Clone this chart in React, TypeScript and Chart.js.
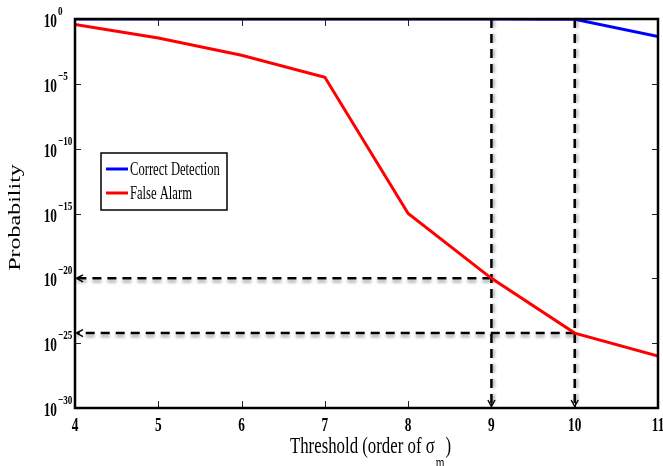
import React, { useEffect, useRef } from "react";
import { Chart, registerables } from "chart.js";

Chart.register(...registerables);

// ---- data ----
const thresholds = [4, 5, 6, 7, 8, 9, 10, 11];
const correctDetection = [1, 1, 1, 1, 1, 1, 0.95, 0.045];
const falseAlarm = [0.38, 0.034, 1.6e-3, 3.2e-5, 1e-15, 1e-20, 6e-25, 1e-26];
const yTickExponents = [0, -5, -10, -15, -20, -25, -30];
const xTickValues = [4, 5, 6, 7, 8, 9, 10, 11];
const markerThresholds = [9, 10];
const seriesLabels = ["Correct Detection", "False Alarm"];
const seriesColors = ["#0000ff", "#ff0000"];

const SX = 0.7; // horizontal squeeze of the reference text
const SERIF = "'Liberation Serif', 'Times New Roman', serif";

function drawText(
  ctx: CanvasRenderingContext2D,
  s: string,
  x: number,
  y: number,
  font: string,
  align: CanvasTextAlign,
  sx: number = SX
) {
  ctx.save();
  ctx.font = font;
  ctx.textAlign = align;
  ctx.textBaseline = "alphabetic";
  ctx.translate(x, y);
  ctx.scale(sx, 1);
  ctx.fillText(s, 0, 0);
  ctx.restore();
}

function textWidth(ctx: CanvasRenderingContext2D, s: string, font: string, sx: number = SX) {
  ctx.save();
  ctx.font = font;
  const w = ctx.measureText(s).width * sx;
  ctx.restore();
  return w;
}

const decorPlugin = {
  id: "decor",
  beforeDatasetsDraw(chart: any) {
    const { ctx, chartArea: a, scales } = chart;
    const xs = scales.x;
    const ys = scales.y;
    ctx.save();
    ctx.fillStyle = "#ffffff";
    ctx.fillRect(a.left, a.top, a.right - a.left, a.bottom - a.top);

    // inward ticks
    ctx.strokeStyle = "#222";
    ctx.lineWidth = 1;
    ctx.beginPath();
    yTickExponents.forEach((e) => {
      const py = Math.round(ys.getPixelForValue(Math.pow(10, e))) + 0.5;
      ctx.moveTo(a.left, py);
      ctx.lineTo(a.left + 6, py);
      ctx.moveTo(a.right, py);
      ctx.lineTo(a.right - 6, py);
    });
    xTickValues.forEach((v) => {
      const px = Math.round(xs.getPixelForValue(v)) + 0.5;
      ctx.moveTo(px, a.bottom);
      ctx.lineTo(px, a.bottom - 7);
      ctx.moveTo(px, a.top);
      ctx.lineTo(px, a.top + 7);
    });
    ctx.stroke();

    // dashed guide lines
    ctx.strokeStyle = "#000";
    ctx.lineWidth = 2.5;
    ctx.setLineDash([9, 6]);
    ctx.shadowColor = "rgba(0,0,0,0.35)";
    ctx.shadowBlur = 3;
    markerThresholds.forEach((t) => {
      const idx = thresholds.indexOf(t);
      const px = xs.getPixelForValue(t);
      const py = ys.getPixelForValue(falseAlarm[idx]);
      ctx.shadowOffsetX = 0;
      ctx.shadowOffsetY = 3;
      ctx.beginPath();
      ctx.moveTo(px, py);
      ctx.lineTo(a.left + 2, py);
      ctx.stroke();
      ctx.shadowOffsetX = 2;
      ctx.shadowOffsetY = 0;
      ctx.beginPath();
      ctx.moveTo(px, a.top);
      ctx.lineTo(px, a.bottom - 2);
      ctx.stroke();
    });
    ctx.setLineDash([]);
    ctx.shadowColor = "transparent";
    ctx.lineWidth = 1.5;
    markerThresholds.forEach((t) => {
      const idx = thresholds.indexOf(t);
      const px = xs.getPixelForValue(t);
      const py = ys.getPixelForValue(falseAlarm[idx]);
      // left arrow
      ctx.beginPath();
      ctx.moveTo(a.left + 8, py - 3.5);
      ctx.lineTo(a.left + 1.5, py);
      ctx.lineTo(a.left + 8, py + 3.5);
      ctx.stroke();
      // down arrow
      ctx.beginPath();
      ctx.moveTo(px - 3.5, a.bottom - 8);
      ctx.lineTo(px, a.bottom - 1.5);
      ctx.lineTo(px + 3.5, a.bottom - 8);
      ctx.stroke();
    });
    ctx.restore();
  },
  afterDraw(chart: any) {
    const { ctx, chartArea: a, scales } = chart;
    const xs = scales.x;
    const ys = scales.y;
    ctx.save();

    // frame
    ctx.strokeStyle = "#000";
    ctx.lineWidth = 2.5;
    ctx.strokeRect(a.left, a.top, a.right - a.left, a.bottom - a.top);

    ctx.fillStyle = "#000";
    // y tick labels
    yTickExponents.forEach((e) => {
      const py = ys.getPixelForValue(Math.pow(10, e));
      drawText(ctx, "10", a.left - 18, py + 8, `bold 19px ${SERIF}`, "right");
      const ex = e === 0 ? "0" : "\u2212" + String(-e);
      drawText(ctx, ex, a.left - 17, py - 4, `bold 13px ${SERIF}`, "left");
    });
    // x tick labels
    xTickValues.forEach((v) => {
      const px = xs.getPixelForValue(v);
      drawText(ctx, String(v), px, a.bottom + 23, `bold 19px ${SERIF}`, "center");
    });

    // x title
    const mainFont = `24px ${SERIF}`;
    const subFont = `16px ${SERIF}`;
    const mainStr = "Threshold (order of \u03c3";
    const w1 = textWidth(ctx, mainStr, mainFont);
    const ws = textWidth(ctx, "m", subFont);
    const w2 = textWidth(ctx, ")", mainFont);
    const total = w1 + ws + 2 + w2;
    const cx = (a.left + a.right) / 2 + 4;
    const x0 = cx - total / 2;
    const base = a.bottom + 45;
    drawText(ctx, mainStr, x0, base, mainFont, "left");
    drawText(ctx, "m", x0 + w1 + 1, base + 15, subFont, "left");
    drawText(ctx, ")", x0 + w1 + ws + 2, base, mainFont, "left");

    // y title
    ctx.save();
    ctx.font = `24px ${SERIF}`;
    ctx.textAlign = "center";
    ctx.textBaseline = "alphabetic";
    ctx.translate(20, (a.top + a.bottom) / 2 + 4);
    ctx.scale(SX, 1);
    ctx.rotate(-Math.PI / 2);
    ctx.fillText("Probability", 0, 0);
    ctx.restore();

    // legend
    const lx = a.left + 26;
    const ly = a.top + 134;
    ctx.fillStyle = "#fff";
    ctx.fillRect(lx, ly, 126, 57);
    ctx.strokeStyle = "#000";
    ctx.lineWidth = 1.5;
    ctx.strokeRect(lx, ly, 126, 57);
    seriesLabels.forEach((lab, i) => {
      const yy = ly + 16 + i * 24;
      ctx.strokeStyle = seriesColors[i];
      ctx.lineWidth = 3;
      ctx.beginPath();
      ctx.moveTo(lx + 5, yy);
      ctx.lineTo(lx + 27, yy);
      ctx.stroke();
      ctx.fillStyle = "#000";
      drawText(ctx, lab, lx + 29, yy + 6, `18px ${SERIF}`, "left");
    });
    ctx.restore();
  },
};

export default function App() {
  const ref = useRef<HTMLCanvasElement | null>(null);
  useEffect(() => {
    if (!ref.current) return;
    const chart = new Chart(ref.current, {
      type: "line",
      data: {
        datasets: [
          {
            label: seriesLabels[0],
            data: thresholds.map((t, i) => ({ x: t, y: correctDetection[i] })),
            borderColor: seriesColors[0],
            borderWidth: 3,
            pointRadius: 0,
            tension: 0,
          },
          {
            label: seriesLabels[1],
            data: thresholds.map((t, i) => ({ x: t, y: falseAlarm[i] })),
            borderColor: seriesColors[1],
            borderWidth: 3,
            pointRadius: 0,
            tension: 0,
          },
        ],
      },
      options: {
        animation: false,
        responsive: false,
        devicePixelRatio: 1,
        layout: { padding: { left: 75, right: 5, top: 19, bottom: 58 } },
        plugins: { legend: { display: false }, tooltip: { enabled: false } },
        scales: {
          x: { type: "linear", min: 4, max: 11, display: false },
          y: { type: "logarithmic", min: 1e-30, max: 1, display: false },
        },
      },
      plugins: [decorPlugin],
    });
    return () => chart.destroy();
  }, []);
  return (
    <div style={{ position: "fixed", left: 0, top: 0, width: 663, height: 466, background: "#fff" }}>
      <canvas ref={ref} width={663} height={466} style={{ width: 663, height: 466 }} />
    </div>
  );
}
